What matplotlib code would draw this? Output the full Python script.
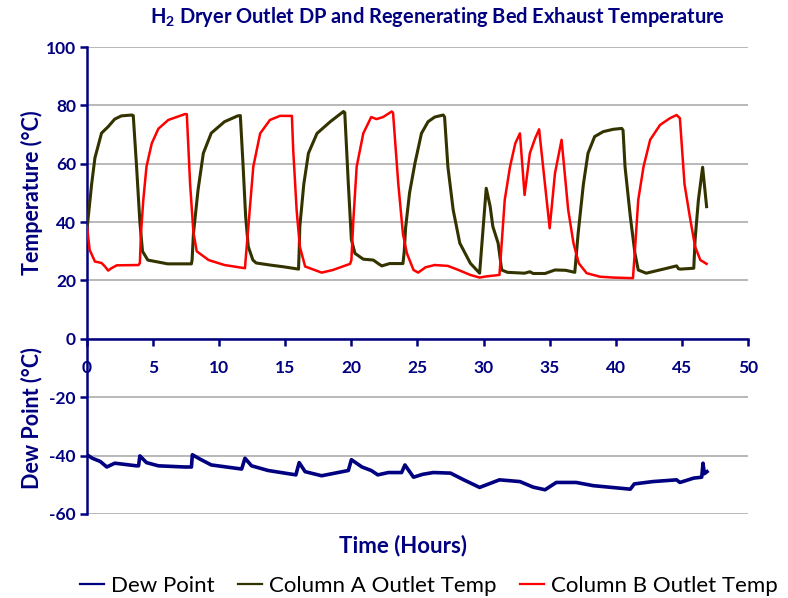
import matplotlib
matplotlib.use('Agg')
import matplotlib.pyplot as plt
import matplotlib.transforms as mtransforms

plt.rcParams['font.family'] = ['Lato', 'DejaVu Sans']
plt.rcParams['mathtext.fontset'] = 'custom'
plt.rcParams['mathtext.rm'] = 'Lato:bold'
plt.rcParams['mathtext.it'] = 'Lato:bold'
plt.rcParams['mathtext.bf'] = 'Lato:bold'
plt.rcParams['axes.unicode_minus'] = False

NAVY = '#000080'

# data (hours, degC)
col_a_t = [0, 0.05, 0.35, 0.6, 1.1, 1.6, 2.1, 2.6, 3.4, 3.5, 3.75, 4.0, 4.2, 4.6, 6.1, 7.9,
           7.95, 8.05, 8.4, 8.8, 9.4, 10.4, 11.4, 11.6, 11.8, 12.0, 12.2, 12.55, 12.8, 13.84,
           14.85, 16.0, 16.05, 16.1, 16.4, 16.75, 17.4, 18.4, 19.4, 19.5, 19.77, 20.0, 20.27,
           20.9, 21.66, 22.03, 22.3, 22.9, 23.9, 24.0, 24.1, 24.4, 24.8, 25.3, 25.8, 26.3,
           26.95, 27.05, 27.3, 27.7, 28.2, 29.0, 29.7, 30.2, 30.5, 30.7, 31.1, 31.37, 31.8,
           33.1, 33.5, 33.75, 34.65, 35.4, 36.2, 36.9, 37.0, 37.15, 37.55, 37.9, 38.4, 39.05,
           39.8, 40.45, 40.55, 40.7, 41.1, 41.45, 41.7, 42.3, 43.6, 44.6, 44.75, 44.9, 45.9,
           46.0, 46.25, 46.57, 46.87]
col_a_v = [38, 39.7, 53, 62, 70.5, 72.7, 75.3, 76.4, 76.7, 76.5, 59, 40, 30, 27, 25.7, 25.7,
           27, 36, 51, 63.6, 70.5, 74.4, 76.4, 76.5, 60, 42, 31.6, 27, 26, 25.3,
           24.7, 23.9, 30, 38.5, 53, 63.6, 70.4, 74.4, 77.9, 77.5, 53, 34, 29.3,
           27.3, 27, 25.8, 25, 25.8, 25.8, 30, 38, 50, 60, 70.4, 74.4, 76,
           76.7, 76, 59, 44.2, 32.8, 25.9, 22.5, 51.6, 45.3, 38.5, 32.8, 23.6, 22.8,
           22.5, 23, 22.4, 22.4, 23.6, 23.5, 22.8, 28, 36, 53, 63.6, 69.3, 71,
           71.8, 72.1, 71.5, 59, 41.9, 29.3, 23.6, 22.5, 23.9, 25, 24, 23.9, 24.2,
           34, 47.6, 58.8, 45.3]

col_b_t = [0, 0.2, 0.6, 1.1, 1.36, 1.6, 1.85, 2.25, 3.9, 4.0, 4.08, 4.26, 4.5, 4.9, 5.4, 6.15,
           7.4, 7.55, 7.8, 8.05, 8.3, 9.2, 10.4, 11.95, 12.05, 12.2, 12.33, 12.58, 13.1, 13.84,
           14.6, 15.5, 15.6, 15.86, 16.1, 16.5, 17.75, 18.6, 19.9, 20.0, 20.15, 20.4, 20.9,
           21.5, 21.9, 22.4, 23.05, 23.15, 23.55, 23.9, 24.2, 24.7, 25.05, 25.6, 26.3, 27.3,
           28.1, 29.0, 29.7, 30.2, 31.2, 31.3, 31.6, 32.0, 32.4, 32.75, 33.1, 33.5, 33.9,
           34.2, 35.0, 35.4, 35.9, 36.4, 36.8, 37.2, 37.8, 38.8, 39.8, 41.3, 41.45, 41.7,
           42.1, 42.6, 43.35, 44.1, 44.6, 44.85, 45.2, 45.6, 46.0, 46.4, 46.87]
col_b_v = [38.5, 30.5, 26.5, 26, 24.8, 23.4, 24.2, 25.2, 25.3, 26, 36, 47.6, 59, 67, 72, 75,
           77, 77, 53, 36.5, 30, 27, 25.3, 24.2, 30, 38, 45.3, 59, 70.4, 75,
           76.4, 76.4, 64.7, 44, 31.6, 24.8, 22.7, 23.6, 25.7, 27, 40.8, 59, 70.4,
           76, 75.3, 76, 77.9, 77.5, 53, 36, 29.3, 23.6, 22.7, 24.5, 25.3, 25,
           23.6, 21.9, 21, 21.4, 21.9, 28.2, 47.6, 59, 67, 70.4, 49.3, 63.6, 68.7,
           71.8, 37.9, 56.7, 68.2, 44.2, 32.8, 25.9, 22.5, 21.3, 21, 20.8, 30.5, 47.6,
           59, 68.2, 73.3, 75.6, 76.7, 75.6, 53, 41.9, 31.6, 27, 25.7]

dew_t = [0, 0.4, 1.0, 1.5, 2.1, 3.75, 3.9, 4.0, 4.5, 5.4, 7.4, 7.9, 7.97, 8.55, 9.4, 11.7,
         11.95, 12.45, 13.7, 15.8, 16.05, 16.5, 17.75, 19.77, 20.0, 20.8, 21.5, 22.0, 22.8,
         23.8, 24.05, 24.7, 25.4, 26.2, 27.5, 28.5, 29.7, 31.2, 32.75, 33.75, 34.65, 35.5,
         37.0, 38.3, 41.1, 41.4, 42.8, 44.6, 44.85, 45.9, 46.5, 46.6, 46.7, 46.9]
dew_v = [-39.7, -40.9, -42, -43.9, -42.6, -43.5, -43.5, -40.1, -42.4, -43.5, -43.9, -43.9,
         -39.7, -41.2, -43.2, -44.6, -40.9, -43.5, -45.1, -46.6, -42.4, -45.5, -46.9, -45.1,
         -41.4, -43.9, -45.1, -46.6, -45.8, -45.8, -43.2, -47.4, -46.4, -45.8, -46, -48.3,
         -50.9, -48.3, -48.9, -50.8, -51.7, -49.2, -49.2, -50.3, -51.5, -49.7, -48.9, -48.3,
         -49.2, -47.7, -47.4, -42.6, -46.2, -45.5]

x_ticks = [0, 5, 10, 15, 20, 25, 30, 35, 40, 45, 50]
y_ticks = [-60, -40, -20, 0, 20, 40, 60, 80, 100]

fig = plt.figure(figsize=(7.88, 5.98), dpi=100)
ax = fig.add_axes([0.1104, 0.1405, 0.8388, 0.7809])

ax.plot(dew_t, dew_v, color=NAVY, lw=2.6, label='Dew Point', zorder=3)
ax.plot(col_a_t, col_a_v, color='#333300', lw=2.2, label='Column A Outlet Temp', zorder=3)
ax.plot(col_b_t, col_b_v, color='#FF0000', lw=1.8, label='Column B Outlet Temp', zorder=3)

ax.set_xlim(0, 50)
ax.set_ylim(-60, 100)
ax.set_xticks(x_ticks)
ax.set_yticks(y_ticks)
ax.yaxis.grid(True, color='#a6a6a6', lw=1.1)
ax.set_axisbelow(True)

for s in ['top', 'right']:
    ax.spines[s].set_visible(False)
ax.spines['bottom'].set_position(('data', 0))
ax.spines['bottom'].set_color(NAVY)
ax.spines['left'].set_color(NAVY)
ax.spines['bottom'].set_linewidth(1.8)
ax.spines['left'].set_linewidth(1.8)
ax.spines['bottom'].set_zorder(4)

ax.tick_params(axis='x', colors=NAVY, length=5, width=1.8, pad=10, labelsize=12.5)
ax.tick_params(axis='y', colors=NAVY, length=5, width=1.8, pad=3, labelsize=12.5)
for lab in ax.get_xticklabels() + ax.get_yticklabels():
    lab.set_fontweight('bold')

trans = mtransforms.blended_transform_factory(ax.transAxes, ax.transData)
ax.text(-0.084, 50, 'Temperature (°C)', transform=trans, rotation=90, ha='center', va='center',
        color=NAVY, fontsize=15.5, fontweight='bold')
ax.text(-0.084, -27, 'Dew Point (°C)', transform=trans, rotation=90, ha='center', va='center',
        color=NAVY, fontsize=15.5, fontweight='bold')

fig.text(0.511, 0.0886, 'Time (Hours)', ha='center', va='center', color=NAVY,
         fontsize=16, fontweight='bold')
fig.text(0.555, 0.972, 'H$_2$ Dryer Outlet DP and Regenerating Bed Exhaust Temperature',
         ha='center', va='center', color=NAVY, fontsize=14.4, fontweight='bold')

leg = fig.legend(loc='center', bbox_to_anchor=(0.544, 0.02), ncol=3, frameon=False,
                 fontsize=16, handlelength=1.08, columnspacing=1.04, handletextpad=0.32)
for ln in leg.get_lines():
    ln.set_linewidth(1.6)

fig.savefig('out.png', dpi=100)
